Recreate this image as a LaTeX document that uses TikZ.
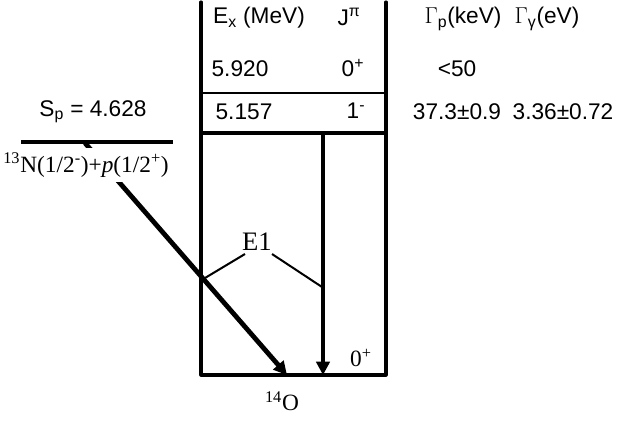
\documentclass[tikz,border=0pt]{standalone}
\usepackage{fontspec}
\setmainfont{Liberation Serif}
\newfontfamily\hv{Liberation Sans}
\usetikzlibrary{arrows.meta}
\tikzset{
  tab/.style={font=\hv\fontsize{17}{20}\selectfont, inner sep=0pt},
  rm/.style={font=\fontsize{17.5}{21}\selectfont, inner sep=0pt},
  wall/.style={line width=2.3pt, line cap=round, line join=round},
  gam/.style={line width=3.6pt, -{Triangle[length=10pt,width=10pt]}}
}

\begin{document}
\begin{tikzpicture}[x=0.75pt,y=-0.75pt]
\useasboundingbox (0,0) rectangle (641,422);
\coordinate (TL) at (201,2);
\coordinate (TR) at (386,2);
\coordinate (BL) at (201,375);
\coordinate (BR) at (386,375);
\coordinate (L1) at (201,93);
\coordinate (R1) at (386,93);
\coordinate (L2) at (201,133);
\coordinate (R2) at (386,133);
\coordinate (SpL) at (21,142);
\coordinate (SpR) at (173,142);

\draw[wall] (TL) -- (BL) -- (BR) -- (TR);
\draw[line width=1.9pt] (L1) -- (R1);
\draw[line width=2.6pt] (L2) -- (R2);
\draw[line width=2.3pt] (SpL) -- (SpR);

\node[tab] (ex) at (259,18) {E\textsubscript{x} (MeV)};
\node[tab] (jpi) at (349,17) {J\textsuperscript{π}};
\node[tab] (gp) at (463,19) {$\Gamma$\textsubscript{p}(keV)};
\node[tab] (gg) at (547,19) {$\Gamma$\textsubscript{γ}(eV)};
\node[tab] (e2) at (240,69) {5.920};
\node[tab] (j2) at (353,68) {0\textsuperscript{+}};
\node[tab] (w2) at (457,69) {<50};
\node[tab] (e1) at (244,112) {5.157};
\node[tab] (j1) at (356,111) {1\textsuperscript{-}};
\node[tab] (wp1) at (457,112) {37.3±0.9};
\node[tab] (wg1) at (563,112) {3.36±0.72};
\node[tab] (sp) at (93,112) {S\textsubscript{p} = 4.628};

\coordinate (thr) at (85,143);
\coordinate (gsA) at (287,375);
\coordinate (lvA) at (323,133);
\coordinate (gsB) at (323,375);
\draw[gam] (thr) -- (gsA);
\draw[gam] (lvA) -- (gsB);
\node[rm, fill=white, inner xsep=2pt, inner ysep=4pt] (chan) at (86,165)
  {\textsuperscript{13}N(1/2\textsuperscript{-})+\textit{p}(1/2\textsuperscript{+})};

\node[rm, font=\fontsize{20}{24}\selectfont] (E1) at (257,242) {E1};
\coordinate (hitA) at (205,278);
\coordinate (hitB) at (322,287);
\draw[line width=1.5pt] (245,254) -- (hitA);
\draw[line width=1.5pt] (272,254) -- (hitB);

\node[rm] (gsJ) at (361,358) {0\textsuperscript{+}};
\node[rm] (O14) at (282,401) {\textsuperscript{14}O};
\end{tikzpicture}
\end{document}
